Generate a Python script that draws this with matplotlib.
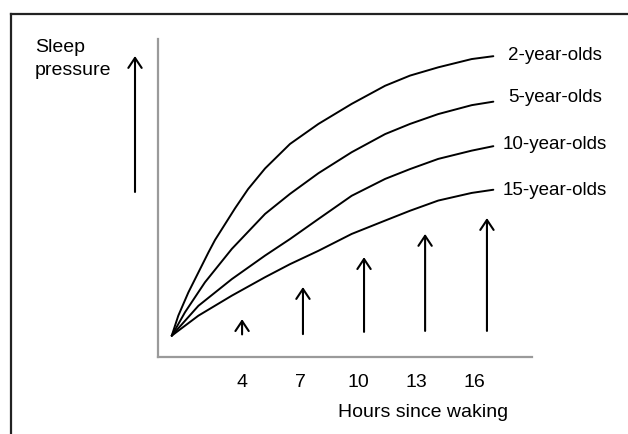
"""
Sleep pressure by age - recreating the textbook figure.

Curves rise fast for young kids and flatten out, arrows show how
pressure builds over the day.
"""

import matplotlib
matplotlib.use("Agg")
import matplotlib.pyplot as plt
from matplotlib.lines import Line2D

plt.rcParams["font.family"] = ["Liberation Sans", "DejaVu Sans"]

# hours since waking and sleep pressure on a 0-100 scale
hours_2 = [0.36, 0.70, 1.22, 2.26, 2.60, 3.64, 4.31, 5.19, 6.48, 7.95, 9.67, 11.40, 12.69, 14.15, 15.88, 17.00]
two_year = [6.7, 13.0, 20.3, 32.9, 36.8, 46.8, 52.8, 59.3, 67.0, 73.3, 79.6, 85.3, 88.5, 91.1, 93.7, 94.6]

hours_5 = [0.36, 1.05, 2.08, 3.47, 5.19, 6.48, 7.95, 9.67, 11.40, 12.69, 14.15, 15.88, 17.00]
five_year = [6.7, 14.1, 23.5, 34.0, 45.0, 51.3, 57.8, 64.4, 70.1, 73.3, 76.4, 79.2, 80.3]

hours_10 = [0.36, 1.74, 3.47, 5.19, 6.48, 7.95, 9.67, 11.40, 12.69, 14.15, 15.88, 17.00]
ten_year = [6.7, 16.1, 24.5, 31.9, 37.1, 43.4, 50.7, 56.0, 59.1, 62.3, 64.9, 66.3]
fifteen_year = [6.7, 13.0, 19.3, 25.1, 29.2, 33.4, 38.7, 42.9, 46.0, 49.2, 51.6, 52.6]

series_labels = ["2-year-olds", "5-year-olds", "10-year-olds", "15-year-olds"]
label_x = [17.76, 17.76, 17.50, 17.50]
label_y = [95.0, 81.8, 67.0, 52.8]

# the upward arrows under the curves
arrow_hours = [4.0, 7.15, 10.31, 13.47, 16.67]
arrow_base = [7.1, 7.2, 7.9, 8.2, 8.2]
arrow_top = [11.9, 22.0, 31.4, 38.7, 43.7]

tick_hours = [4, 7, 10, 13, 16]
tick_labels = ["4", "7", "10", "13", "16"]

FONT = 14
ARROW = "->,head_length=0.6,head_width=0.4"


def draw_curves(ax):
    style = dict(color="black", lw=1.4, solid_joinstyle="round", solid_capstyle="round")
    ax.plot(hours_2, two_year, **style)
    ax.plot(hours_5, five_year, **style)
    ax.plot(hours_10, ten_year, **style)
    ax.plot(hours_10, fifteen_year, **style)

    for label, x, y in zip(series_labels, label_x, label_y):
        ax.text(x, y, label, ha="left", va="center", fontsize=13.5, clip_on=False)


def draw_arrows(ax):
    for x, y0, y1 in zip(arrow_hours, arrow_base, arrow_top):
        ax.annotate("", xy=(x, y1), xytext=(x, y0),
                    arrowprops=dict(arrowstyle=ARROW, lw=1.5, color="black",
                                    shrinkA=0, shrinkB=0, mutation_scale=12))

    # the big arrow next to the y axis
    ax.annotate("", xy=(-0.0615, 0.9465), xytext=(-0.0615, 0.519),
                xycoords="axes fraction", textcoords="axes fraction",
                arrowprops=dict(arrowstyle=ARROW, lw=1.5, color="black",
                                shrinkA=0, shrinkB=0, mutation_scale=12))


def main():
    fig = plt.figure(figsize=(6.28, 4.35), dpi=100)
    ax = fig.add_axes([0.2516, 0.1770, 0.5955, 0.7310])

    ax.set_xlim(-0.35, 19.0)
    ax.set_ylim(0, 100)

    draw_curves(ax)
    draw_arrows(ax)

    # only left and bottom spines, light grey
    for side in ["top", "right"]:
        ax.spines[side].set_visible(False)
    for side in ["left", "bottom"]:
        ax.spines[side].set_color("#9a9a9a")
        ax.spines[side].set_linewidth(1.6)

    ax.set_xticks(tick_hours)
    ax.set_xticklabels(tick_labels, fontsize=FONT)
    ax.set_yticks([])
    ax.tick_params(axis="x", length=0, pad=11.5)

    ax.text(0.709, -0.17, "Hours since waking", transform=ax.transAxes,
            ha="center", va="center", fontsize=FONT)

    fig.text(35 / 628, 1 - 39 / 435, "Sleep\npressure", ha="left", va="top",
             fontsize=FONT, linespacing=1.45)

    # border of the original figure (only left and top show)
    fig.add_artist(Line2D([11 / 628, 11 / 628], [0, 1 - 15 / 435],
                          color="#222222", lw=1.6, transform=fig.transFigure))
    fig.add_artist(Line2D([11 / 628, 1], [1 - 15 / 435, 1 - 15 / 435],
                          color="#222222", lw=1.6, transform=fig.transFigure))

    fig.savefig("out.png", dpi=100)
    print("Saved out.png")


if __name__ == "__main__":
    main()
